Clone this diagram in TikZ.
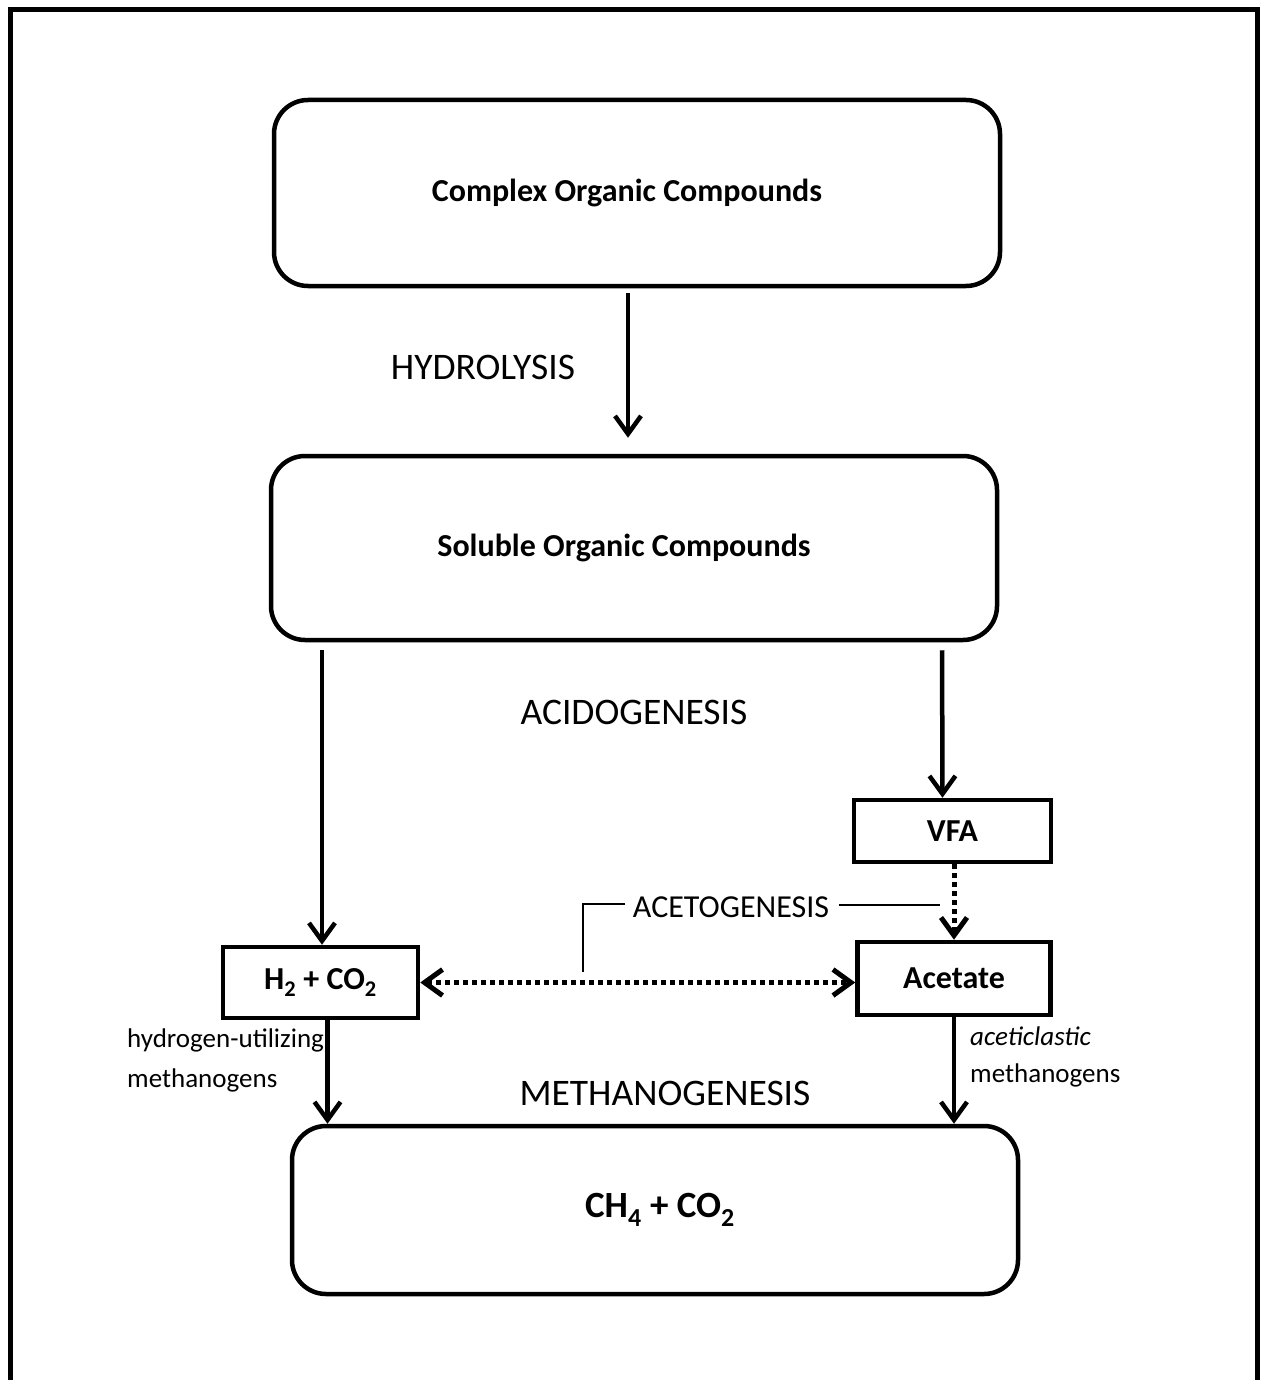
\documentclass[tikz,border=0pt]{standalone}
\usepackage{fontspec}
\setmainfont{Carlito}
\usetikzlibrary{arrows.meta}
\usetikzlibrary{calc}

\begin{document}
\begin{tikzpicture}[x=1pt,y=-1pt,>/.tip={Straight Barb[length=18pt,width=26pt]},
	bigbox/.style={draw,line width=4.5pt,rounded corners=34pt,minimum width=726pt,font=\fontsize{32}{36}\selectfont\bfseries},
	smallbox/.style={draw,line width=4.5pt,font=\fontsize{32}{36}\selectfont\bfseries},
	stage/.style={font=\fontsize{37.5}{40}\selectfont},
	note/.style={anchor=west,align=left,inner sep=0pt,font=\fontsize{27}{40}\selectfont},
	flow/.style={line width=4.5pt},
	dots/.style={line width=5pt,dash pattern=on 5pt off 4pt}]
	\useasboundingbox (0,0) rectangle (1260,1380);
	\draw[line width=5pt] (10.5,1385) -- (10.5,9.5) -- (1257,9.5) -- (1257,1385);
	% compounds
	\draw (637,193) node (complex) [bigbox,minimum height=186pt] {Complex Organic Compounds\hspace*{20pt}};
	\draw (634,548) node (soluble) [bigbox,minimum height=184pt] {Soluble Organic Compounds\hspace*{20pt}};
	\draw (655,1210) node (methane) [bigbox,minimum height=168pt,font=\fontsize{37}{40}\selectfont\bfseries] {\hspace*{10pt}CH\textsubscript{4} + CO\textsubscript{2}};
	\draw (952.5,831) node (vfa) [smallbox,minimum width=197pt,minimum height=62pt] {VFA};
	\draw (954,978.5) node (acetate) [smallbox,minimum width=193pt,minimum height=73pt] {Acetate};
	\draw (320.5,982.5) node (hco) [smallbox,minimum width=195pt,minimum height=71pt] {H\textsubscript{2} + CO\textsubscript{2}};
	% stages
	\node (hydrolysis) [stage] at (483,367) {HYDROLYSIS};
	\node (acidogenesis) [stage] at (634,712) {ACIDOGENESIS};
	\node (methanogenesis) [stage] at (665,1093) {METHANOGENESIS};
	\node (acetogenesis) [stage,font=\fontsize{32}{36}\selectfont] at (731,907) {ACETOGENESIS};
	\node (hydro) [note] at (127,1060) {hydrogen-utilizing\\methanogens};
	\node (acetic) [note,font=\fontsize{27}{37}\selectfont] at (970,1057) {\textit{aceticlastic}\\methanogens};
	% arrows
	\path[->,flow] ([xshift=-9pt]complex.south) edge [shorten <=5pt,shorten >=16pt] ([xshift=-6pt]soluble.north);
	\path[->,flow] (soluble.south -| 322,0) edge [shorten <=8pt] (hco.north -| 322,0);
	\path[->,flow] ([xshift=308pt]soluble.south) edge [shorten <=8pt] ([xshift=-10pt]vfa.north);
	\path[->,flow] ([xshift=7pt]hco.south) edge ([xshift=7pt]hco.south |- methane.north);
	\path[->,flow] (acetate.south) edge (acetate.south |- methane.north);
	\path[->,dots] (vfa.south -| acetate.north) edge (acetate.north);
	\path[<->,dots] (hco.east) edge (hco.east -| acetate.west);
	% acetogenesis bracket
	\coordinate (corner) at (583,904);
	\coordinate (foot) at (583,972);
	\coordinate (tail) at (940,905);
	\draw[line width=2pt] ([xshift=-4pt]acetogenesis.west |- corner) -- (corner) -- (foot);
	\draw[line width=2pt] ([xshift=6pt]acetogenesis.east |- tail) -- (tail);
\end{tikzpicture}
\end{document}
